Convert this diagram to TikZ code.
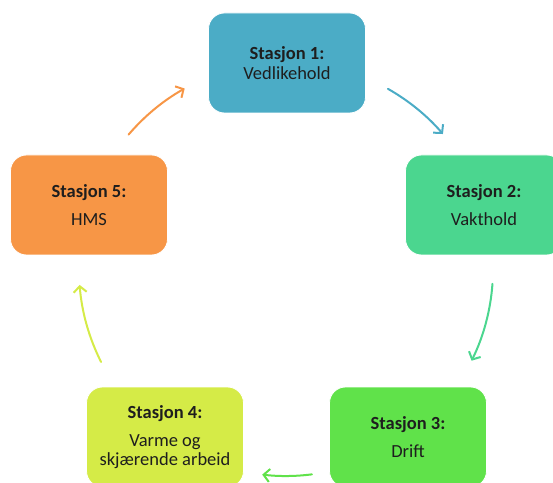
\documentclass[tikz,border=0pt]{standalone}
\usepackage{fontspec}
\setmainfont{Carlito}
\usetikzlibrary{arrows.meta}
\definecolor{c1}{HTML}{4BACC6}
\definecolor{c2}{HTML}{4BD68F}
\definecolor{c3}{HTML}{60E24A}
\definecolor{c4}{HTML}{D5EB47}
\definecolor{c5}{HTML}{F79646}
\definecolor{txt}{HTML}{1E1E1E}
\tikzset{
  box/.style={rounded corners=16pt, minimum width=157pt, minimum height=100pt,
    align=center, font=\fontsize{18.5}{20}\selectfont, text=txt, inner sep=0pt,
    draw=white, line width=0.8pt},
  conn/.style={line width=2pt, line cap=round, -{Straight Barb[length=6pt,width=13pt,line width=2pt]}}
}
\begin{document}
\begin{tikzpicture}[x=1pt,y=1pt]
\useasboundingbox (0,0) rectangle (553,482);
\clip (0,0) rectangle (553,482);
\coordinate (ctr) at (286,213);
\node[box, fill=c1] (b1) at (287,419) {\textbf{Stasjon 1:}\\Vedlikehold};
\node[box, fill=c2] (b2) at (484,277) {\textbf{Stasjon 2:}\\[8pt]Vakthold};
\node[box, fill=c3] (b3) at (408,45) {\textbf{Stasjon 3:}\\[8pt]Drift};
\node[box, fill=c4, font=\fontsize{18.5}{18.5}\selectfont] (b4) at (165,45) {\textbf{Stasjon 4:}\\[10pt]Varme og\\skjærende arbeid};
\node[box, fill=c5] (b5) at (89,277) {\textbf{Stasjon 5:}\\[8pt]HMS};
\draw[conn, c1] ([shift={(60.5:207)}]ctr) arc[start angle=60.5, end angle=40.7, radius=207];
\draw[conn, c2] ([shift={(-4.1:207)}]ctr) arc[start angle=-4.1, end angle=-26.3, radius=207];
\draw[conn, c3] ([shift={(-82.8:207)}]ctr) arc[start angle=-82.8, end angle=-96.6, radius=207];
\draw[conn, c4] ([shift={(206.7:207)}]ctr) arc[start angle=206.7, end angle=184.4, radius=207];
\draw[conn, c5] ([shift={(139.5:207)}]ctr) arc[start angle=139.5, end angle=119.3, radius=207];
\end{tikzpicture}
\end{document}
